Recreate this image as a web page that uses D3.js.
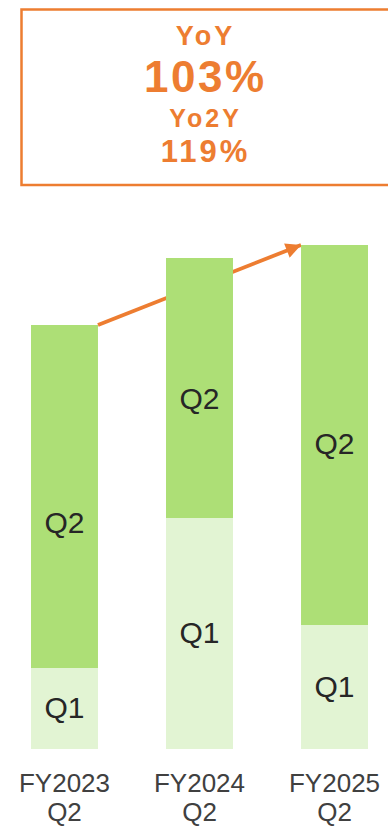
<!DOCTYPE html>
<html>
<head>
<meta charset="utf-8">
<script src="https://cdn.jsdelivr.net/npm/d3@7"></script>
<style>
  html, body { margin: 0; padding: 0; background: #fff; }
  svg { display: block; }
</style>
</head>
<body>
<script>
// ---- Data ----
const categories = ["FY2023", "FY2024", "FY2025"];
const periodLabels = ["Q2", "Q2", "Q2"];
const seriesNames = ["Q1", "Q2"];
const q1Values = [81, 231, 124];
const q2Values = [343, 260, 380];
const calloutLabels = ["YoY", "103%", "Yo2Y", "119%"];

// ---- Setup ----
const W = 388, H = 827;
const orange = "#ED7D31";
const colors = { Q1: "#E2F4D3", Q2: "#ADDF76" };
const font = "'Liberation Sans', Arial, Helvetica, sans-serif";

const svg = d3.select("body").append("svg")
  .attr("width", W).attr("height", H)
  .style("font-family", font);

const x = d3.scaleBand().domain(categories).range([31, 368]).paddingInner(0.504).paddingOuter(0);
const totals = categories.map((c, i) => q1Values[i] + q2Values[i]);
const y = d3.scaleLinear().domain([0, d3.max(totals)]).range([749, 245]);

const rows = categories.map((c, i) => ({ cat: c, Q1: q1Values[i], Q2: q2Values[i] }));
const stacked = d3.stack().keys(seriesNames)(rows);

// ---- Callout box ----
svg.append("rect")
  .attr("x", 21.5).attr("y", 9.5).attr("width", 380).attr("height", 175.5)
  .attr("fill", "none").attr("stroke", orange).attr("stroke-width", 2.5);

const calloutStyle = [
  { size: 27, ls: 3, base: 45 },
  { size: 44, ls: 2.5, base: 92 },
  { size: 25, ls: 3, base: 127 },
  { size: 31, ls: 3, base: 162 }
];
svg.append("g").selectAll("text").data(calloutLabels).join("text")
  .attr("x", (d, i) => 204 + calloutStyle[i].ls / 2)
  .attr("y", (d, i) => calloutStyle[i].base)
  .attr("text-anchor", "middle")
  .attr("font-weight", "bold")
  .attr("font-size", (d, i) => calloutStyle[i].size)
  .attr("letter-spacing", (d, i) => calloutStyle[i].ls)
  .attr("fill", orange)
  .text(d => d);

// ---- Arrow (behind bars) ----
const defs = svg.append("defs");
defs.append("marker")
  .attr("id", "ah").attr("viewBox", "0 0 10 10")
  .attr("refX", 10).attr("refY", 5)
  .attr("markerWidth", 4.2).attr("markerHeight", 4)
  .attr("markerUnits", "strokeWidth")
  .attr("orient", "auto")
  .append("path").attr("d", "M0,0 L10,5 L0,10 Z").attr("fill", orange);

const first = categories[0], last = categories[categories.length - 1];
svg.append("line")
  .attr("x1", x(first) + x.bandwidth()).attr("y1", y(totals[0]))
  .attr("x2", x(last)).attr("y2", y(totals[totals.length - 1]))
  .attr("stroke", orange).attr("stroke-width", 3.8)
  .attr("marker-end", "url(#ah)");

// ---- Bars ----
const gBars = svg.append("g");
stacked.forEach(layer => {
  gBars.append("g").selectAll("rect").data(layer).join("rect")
    .attr("x", d => x(d.data.cat))
    .attr("width", x.bandwidth())
    .attr("y", d => y(d[1]))
    .attr("height", d => y(d[0]) - y(d[1]))
    .attr("fill", colors[layer.key]);
});

// ---- Segment labels ----
const labelFs = 30;
const q2Shift = [27, 11.5, 9];
stacked.forEach(layer => {
  svg.append("g").selectAll("text").data(layer).join("text")
    .attr("x", d => x(d.data.cat) + x.bandwidth() / 2)
    .attr("y", (d, i) => (y(d[0]) + y(d[1])) / 2 + labelFs * 0.358 - 1
        + (layer.key === "Q2" ? q2Shift[i] : 0))
    .attr("text-anchor", "middle")
    .attr("font-size", labelFs)
    .attr("fill", "#262626")
    .text(layer.key);
});

// ---- Category axis ----
const axis = svg.append("g")
  .attr("transform", `translate(0,${y(0)})`)
  .call(d3.axisBottom(x).tickSize(0).tickPadding(0));
axis.select(".domain").remove();
axis.selectAll(".tick").each(function(d, i) {
  const tick = d3.select(this);
  tick.select("text").remove();
  tick.append("text")
    .attr("x", 0).attr("y", 43).attr("text-anchor", "middle")
    .attr("font-size", 26).attr("font-family", font).attr("fill", "#404040")
    .text(d);
  tick.append("text")
    .attr("x", 0).attr("y", 72).attr("text-anchor", "middle")
    .attr("font-size", 26).attr("font-family", font).attr("fill", "#404040")
    .text(periodLabels[i]);
});
</script>
</body>
</html>
